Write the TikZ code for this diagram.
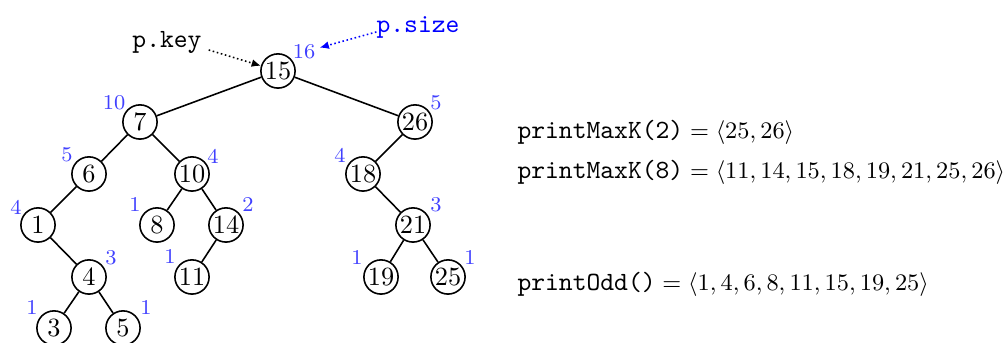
\documentclass[tikz,border=0pt]{standalone}
\usetikzlibrary{arrows.meta}
\definecolor{lblue}{RGB}{64,64,255}
\begin{document}
\begin{tikzpicture}[x=0.38pt,y=-0.38pt,
  vtx/.style={circle,draw,line width=0.6pt,minimum size=13pt,inner sep=0pt},
  sz/.style={text=lblue,font=\footnotesize,inner sep=1.5pt},
  edge/.style={line width=0.6pt},
  ptr/.style={densely dotted,line width=0.6pt,-{Latex[length=3.5pt,width=3pt]}},
  code/.style={font=\ttfamily,inner sep=1pt,anchor=base},
  res/.style={anchor=base west,inner sep=0pt,font=\fontsize{9}{11}\selectfont}]
\useasboundingbox (0,0) rectangle (1006,343);
% tree nodes
\node[vtx] (n15) at (278,71) {15};
\node[vtx] (n7)  at (140,122) {7};
\node[vtx] (n26) at (415,122) {26};
\node[vtx] (n6)  at (89,174) {6};
\node[vtx] (n10) at (192,174) {10};
\node[vtx] (n18) at (363,174) {18};
\node[vtx] (n1)  at (38,225) {1};
\node[vtx] (n8)  at (157,225) {8};
\node[vtx] (n14) at (226,225) {14};
\node[vtx] (n21) at (413,225) {21};
\node[vtx] (n4)  at (89,277) {4};
\node[vtx] (n11) at (192,277) {11};
\node[vtx] (n19) at (381,277) {19};
\node[vtx] (n25) at (448,277) {25};
\node[vtx] (n3)  at (54,328) {3};
\node[vtx] (n5)  at (123,328) {5};
% edges
\draw[edge] (n15) -- (n7);
\draw[edge] (n15) -- (n26);
\draw[edge] (n7) -- (n6);
\draw[edge] (n7) -- (n10);
\draw[edge] (n6) -- (n1);
\draw[edge] (n1) -- (n4);
\draw[edge] (n4) -- (n3);
\draw[edge] (n4) -- (n5);
\draw[edge] (n10) -- (n8);
\draw[edge] (n10) -- (n14);
\draw[edge] (n14) -- (n11);
\draw[edge] (n26) -- (n18);
\draw[edge] (n18) -- (n21);
\draw[edge] (n21) -- (n19);
\draw[edge] (n21) -- (n25);
% size labels
\node[sz] (s15) at (304,52) {16};
\node[sz] (s7)  at (114,103) {10};
\node[sz] (s26) at (436,103) {5};
\node[sz] (s6)  at (67,155) {5};
\node[sz] (s10) at (213,156) {4};
\node[sz] (s18) at (340,155) {4};
\node[sz] (s1)  at (16,207) {4};
\node[sz] (s8)  at (135,205) {1};
\node[sz] (s14) at (248,205) {2};
\node[sz] (s21) at (436,205) {3};
\node[sz] (s4)  at (111,258) {3};
\node[sz] (s11) at (170,257) {1};
\node[sz] (s19) at (357,258) {1};
\node[sz] (s25) at (470,258) {1};
\node[sz] (s3)  at (32,308) {1};
\node[sz] (s5)  at (146,308) {1};
% pointers
\node[code] (pkey) at (167,48) {p.key};
\node[code,text=blue] (psize) at (418,33) {p.size};
\draw[ptr] ([shift={(4,7)}]pkey.east) -- (n15);
\draw[ptr,blue] ([shift={(3,4)}]psize.west) -- (s15);
% results
\node[res] (r1) at (517,139) {{\fontsize{10}{12}\selectfont\ttfamily printMaxK(2)}${} = \langle 25, 26\rangle$};
\node[res] (r2) at (517,179) {{\fontsize{10}{12}\selectfont\ttfamily printMaxK(8)}${} = \langle 11, 14, 15, 18, 19, 21, 25, 26\rangle$};
\node[res] (r3) at (517,291) {{\fontsize{10}{12}\selectfont\ttfamily printOdd()}${} = \langle 1, 4, 6, 8, 11, 15, 19, 25\rangle$};
\end{tikzpicture}
\end{document}
